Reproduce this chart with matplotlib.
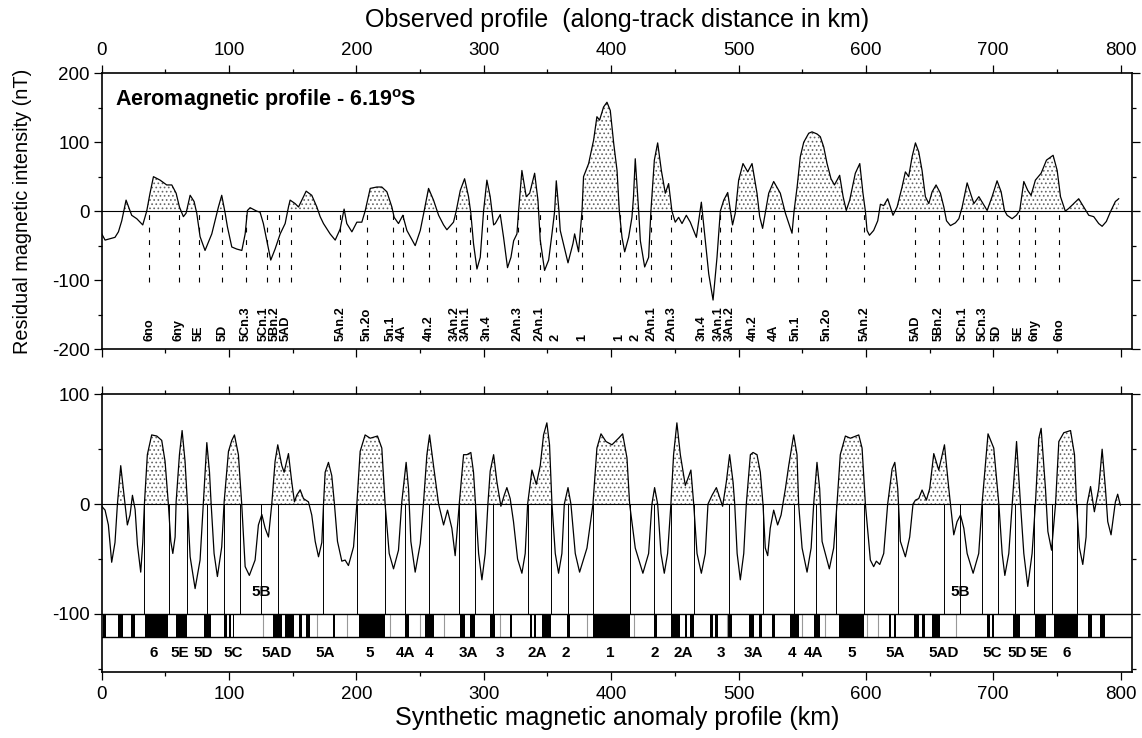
import matplotlib
matplotlib.use("Agg")
import matplotlib.pyplot as plt
import numpy as np
from matplotlib.ticker import MultipleLocator

plt.rcParams["font.family"] = ["Liberation Sans", "DejaVu Sans"]
plt.rcParams["axes.unicode_minus"] = False
plt.rcParams["mathtext.fontset"] = "custom"
plt.rcParams["mathtext.rm"] = "Liberation Sans"
plt.rcParams["mathtext.bf"] = "Liberation Sans:bold"
plt.rcParams["hatch.linewidth"] = 0.7
plt.rcParams["hatch.color"] = "#666666"
plt.rcParams["lines.scale_dashes"] = False

# ---------------- observed (aeromagnetic) profile, km / nT
obs_km = [0, 2.6, 6.5, 10.4, 13.1, 15.7, 19.1, 23.5, 27.5, 32.2, 35.3, 37.9, 40.6, 45.8, 51.0,
          55.0, 58.4, 61.0, 64.1, 66.2, 69.4, 72.5, 74.6, 77.2, 81.1, 86.4, 91.6, 94.2, 96.9,
          98.7, 102.1, 106.0, 110.0, 112.6, 114.4, 116.5, 121.7, 124.3, 126.9, 129.6, 132.7,
          136.1, 140.1, 144.0, 146.6, 147.9, 151.8, 154.5, 160.5, 164.9, 168.9, 171.5, 174.1,
          179.3, 183.3, 187.2, 190.3, 192.4, 196.4, 200.3, 204.2, 206.8, 210.8, 216.0, 219.9,
          223.9, 227.8, 229.6, 233.0, 236.4, 239.6, 246.1, 250.1, 252.7, 256.6, 260.5, 264.5,
          268.4, 271.0, 276.2, 278.3, 281.5, 284.9, 288.0, 289.8, 291.9, 294.6, 297.2, 299.8,
          302.4, 305.0, 307.7, 309.0, 312.9, 315.5, 318.6, 321.3, 323.4, 326.0, 327.3, 329.9,
          333.3, 336.0, 339.9, 342.5, 344.3, 347.7, 350.9, 353.5, 355.6, 356.9, 359.0, 360.0,
          366.1, 370.0, 371.3, 374.4, 377.1, 378.3, 382.3, 386.2, 388.8, 390.9, 394.0, 396.7,
          399.3, 402.0, 404.6, 406.4, 408.5, 410.6, 413.7, 416.3, 417.5, 418.9, 421.6, 422.9,
          426.3, 429.4, 431.2, 433.9, 436.5, 439.4, 442.5, 445.1, 447.7, 450.3, 453.0, 455.6,
          459.0, 462.1, 466.9, 470.8, 473.9, 476.6, 480.0, 483.1, 485.7, 488.4, 491.5, 495.3,
          497.4, 500.1, 503.5, 507.2, 510.6, 514.5, 516.6, 518.9, 523.7, 527.6, 532.8, 536.8,
          542.0, 543.6, 546.0, 548.5, 551.2, 555.1, 557.7, 561.6, 564.2, 566.9, 569.5, 572.6,
          575.3, 579.4, 582.1, 584.6, 587.3, 591.7, 595.2, 597.7, 599.6, 600.9, 602.8, 606.1,
          609.3, 611.4, 614.0, 617.1, 619.2, 621.3, 624.5, 628.4, 631.0, 633.6, 636.3, 638.9,
          641.5, 644.1, 646.7, 649.4, 652.0, 655.1, 658.5, 661.2, 663.3, 666.4, 670.3, 673.0,
          675.6, 679.5, 682.1, 684.8, 688.7, 692.0, 695.2, 699.1, 703.0, 706.2, 708.8, 710.9,
          714.8, 718.2, 720.8, 724.0, 727.1, 729.7, 733.1, 737.6, 741.8, 747.0, 750.2, 752.8,
          756.6, 759.3, 763.2, 767.1, 771.1, 775.0, 778.9, 782.8, 785.5, 788.8, 792.0, 795.9,
          798.5]
obs_nt = [-33, -42, -40, -38, -30, -14, 16, -6, -11, -20, 0, 26, 50, 45, 38,
          38, 26, 6, -8, -3, 23, 14, -3, -37, -57, -33, 6, 23, -3,
          -23, -52, -55, -57, -33, 1, 5, 0, -1.5, -18, -43, -71,
          -55, -33, -18, 6, 16, 11, 6, 29, 23, 6, -8, -18,
          -33, -42, -26, 3, -18, -30, -16, -16, 0, 33, 35, 35,
          28, 6, -9, -18, -6, -28, -50, -28, -4, 33, 16, -6,
          -20, -27, -16, 0, 30, 47, 21, -3, -47, -84, -67, 0,
          45, 21, -20, -18, -5, -38, -82, -67, -43, -33, 0, 59,
          21, 26, 55, 16, -42, -86, -71, -33, 0, 44, 0, -28,
          -75, -47, -33, -59, 0, 50, 69, 103, 137, 132, 151, 158,
          146, 98, 59, 0, -38, -59, -38, -9, 20, 76, 0, -43,
          -81, -67, 0, 74, 99, 59, 26, 40, 0, -16, -9, -18,
          -6, -16, -38, 13, -43, -91, -129, -67, 0, 16, 27, -20,
          -3, 45, 69, 57, 69, 26, -8, -25, 26, 43, 26, -3,
          -32, 0, 35, 79, 100, 113, 115, 112, 108, 93, 69, 47,
          38, 52, 21, 1, 16, 55, 69, 26, 0, -28, -35, -28,
          -14, 10, 8, 18, 6, -6, 6, 35, 57, 50, 79, 99,
          86, 59, 21, 11, 28, 38, 26, 6, -14, -21, -17, -11,
          6, 41, 26, 11, 21, 11, 1, 21, 44, 28, 1, -6,
          -11, -6, 1, 43, 30, 23, 45, 55, 74, 81, 59, 21,
          0, 4, 11, 18, 6, -6, -8, -18, -22, -15, -1, 14,
          18]

# picked isochrons on the observed profile
chron_km = [37.2, 60.7, 76.4, 94.8, 113.1, 130.1, 139.3, 148.7, 187.2, 208.1, 228.3, 236.4,
            256.6, 277.8, 288.8, 302.4, 326.5, 343.8, 356.9, 377.1, 406.6, 419.5, 431.5, 447.2,
            470.8, 485.2, 494.4, 511.1, 527.6, 546.4, 569.0, 598.8, 638.9, 657.5, 676.0, 691.8,
            703.3, 720.3, 732.9, 752.0]
chron_labels = ["6no", "6ny", "5E", "5D", "5Cn.3", "5Cn.1", "5Bn.2", "5AD", "5An.2", "5n.2o",
                "5n.1", "4A", "4n.2", "3An.2", "3An.1", "3n.4", "2An.3", "2An.1", "2", "1",
                "1", "2", "2An.1", "2An.3", "3n.4", "3An.1", "3An.2", "4n.2", "4A", "5n.1",
                "5n.2o", "5An.2", "5AD", "5Bn.2", "5Cn.1", "5Cn.3", "5D", "5E", "6ny", "6no"]
chron_label_km = [37.5, 60.5, 76.0, 95.0, 113.1, 127.0, 135.6, 144.2, 187.2, 208.1,
                  226.5, 235.5, 256.6, 276.8, 285.6, 302.4, 326.5, 343.8, 356.0, 377.1,
                  406.6, 418.8, 432.0, 447.2, 470.8, 484.4, 493.2, 511.1, 527.6, 545.0,
                  569.0, 598.8, 638.9, 657.5, 676.0, 692.0, 702.5, 720.3, 732.3, 752.0]

# ---------------- synthetic profile, km / nT
syn_km = [0, 2.6, 5.2, 7.8, 10.4, 12.3, 14.9, 17.5, 20.1, 22.2, 24.1, 26.2, 28.0, 30.6, 32.2,
          33.5, 35.8, 39.2, 43.2, 47.1, 49.7, 52.3, 54.2, 55.8, 57.6, 58.4, 61.0, 63.1, 65.4,
          67.3, 69.4, 73.3, 77.2, 79.8, 82.5, 84.6, 85.9, 88.2, 90.8, 94.2, 96.1, 99.5, 102.1,
          104.2, 107.3, 109.9, 112.6, 115.9, 120.4, 123.0, 125.7, 128.3, 130.9, 133.5, 136.1,
          138.2, 141.4, 143.2, 146.6, 149.2, 151.3, 153.1, 155.8, 158.4, 162.3, 164.9, 167.6,
          170.2, 172.8, 174.1, 175.4, 178.0, 180.6, 182.7, 185.1, 188.5, 191.1, 193.7, 197.7,
          200.3, 202.9, 206.8, 210.8, 216.5, 219.9, 222.5, 225.7, 229.1, 233.0, 235.6, 239.0,
          240.9, 242.7, 246.1, 250.1, 252.7, 255.3, 257.4, 260.5, 264.5, 268.4, 271.5, 274.9,
          277.5, 280.7, 284.1, 286.7, 289.8, 291.9, 293.5, 295.9, 298.5, 301.1, 303.2, 305.0,
          307.7, 310.3, 313.4, 316.0, 318.1, 320.7, 323.3, 326.5, 329.9, 332.5, 334.4, 337.8,
          341.2, 344.3, 346.9, 349.5, 351.6, 353.5, 356.1, 358.7, 361.3, 363.2, 366.1, 368.4,
          371.8, 375.2, 381.0, 385.7, 388.8, 392.0, 395.9, 400.6, 405.8, 409.0, 412.4, 414.5,
          418.9, 424.9, 429.4, 432.0, 434.1, 436.5, 439.1, 441.7, 444.3, 446.9, 449.0, 451.6,
          454.3, 458.2, 460.8, 462.6, 464.8, 467.4, 470.8, 473.9, 476.0, 479.2, 482.6, 487.5,
          490.4, 493.0, 495.7, 497.0, 498.9, 501.4, 504.1, 506.1, 509.3, 511.4, 514.5, 517.1,
          519.2, 521.0, 522.9, 524.9, 527.6, 530.7, 533.4, 536.8, 539.4, 543.3, 545.9, 547.2,
          549.9, 553.8, 557.0, 559.0, 561.6, 563.7, 565.6, 571.3, 574.7, 577.3, 579.9, 583.9,
          587.8, 594.4, 597.0, 599.6, 603.5, 606.1, 608.2, 610.9, 614.0, 617.1, 620.6, 622.7,
          625.0, 627.1, 631.0, 634.4, 637.0, 638.9, 641.5, 644.1, 647.5, 650.1, 653.3, 657.2,
          661.7, 665.1, 666.4, 669.0, 671.6, 674.3, 676.9, 679.5, 684.2, 688.6, 691.2, 695.9,
          700.4, 704.4, 707.0, 709.1, 712.2, 714.9, 718.3, 721.4, 724.0, 727.1, 730.5, 733.1,
          735.8, 737.6, 741.0, 742.9, 745.8, 748.9, 751.5, 755.4, 760.7, 763.8, 765.4, 767.7,
          770.3, 772.9, 773.7, 776.4, 779.4, 782.8, 785.5, 788.1, 789.9, 792.5, 795.9, 797.7,
          799.8]
syn_nt = [-2, -5.5, -19, -53, -35, 0, 35, 8, -19, -10, 8, -5, -37, -62, -35,
          0, 45, 63, 62, 58, 39, 0, -34, -45, -30, 2, 45, 67, 39,
          0, -48, -77, -51, 2, 56, 29, 0, -45, -66, -39, 2, 48, 58,
          63, 45, 0, -57, -65, -51, -19, -9.5, -22, -30, 0, 39,
          54, 35, 29, 46, 20, 2, 8, 13, 5, 2, -10, -34,
          -48, -35, -1, 29, 38, 26, 0, -34, -52, -51, -56, -39,
          0, 48, 63, 60, 62, 51, 0, -45, -59, -42, 2, 38,
          14, -34, -62, -36, 2, 45, 63, 35, 0, -19, -5.5, -22,
          -47, 0, 45, 45, 47, 29, 0, -45, -69, -45, 0, 30,
          45, 20, -2, 8, 15, 5, -16, -50, -63, -45, 0, 31,
          18, 35, 63, 74, 54, 0, -45, -63, -45, 0, 15, 0,
          -45, -62, -40, 0, 51, 64, 57, 54, 60, 64, 42, 0,
          -40, -63, -45, 0, 15, 0, -45, -63, -45, 0, 45, 74,
          45, 17, 25, 31, 0, -45, -63, -45, 0, 8, 15, -2,
          20, 45, 20, 0, -45, -69, -45, 0, 45, 47, 45, 29,
          0, -40, -47, -22, -5.5, -19, -10, 14, 35, 63, 45, 0,
          -40, -62, -40, 0, 38, 14, -34, -59, -40, 0, 45, 62,
          60, 63, 51, 0, -51, -57, -52, -55, -45, 0, 32, 38,
          14, -34, -48, -30, 0, 3.6, 5, 12.8, 3.6, 14, 46, 31,
          54, 14, 0, -28, -16, -10, -22, -45, -63, -45, 0, 64,
          51, 0, -45, -65, -45, 0, 57, 0, -45, -75, -45, 0,
          60, 69, 14, -25, -42, 0, 57, 65, 67, 45, 0, -40,
          -55, -30, 0, 16, -7, 14, 50, 14, -16, -28, 2, 9,
          -1]

# chron boundaries drawn on synthetic profile
boundary_km = [33.5, 53.1, 67.3, 82.5, 96.1, 108.6, 125.1, 138.2, 174.1, 200.8, 222.6, 238.3,
               256.6, 280.2, 292.7, 307.1, 334.6, 352.9, 366.1, 385.7, 414.5, 433.3, 446.9,
               464.8, 492.5, 518.9, 543.3, 560.8, 576.8, 598.3, 625.0, 661.1, 674.2, 691.2,
               703.8, 716.9, 732.3, 746.2, 765.9]

# normal polarity blocks of the model (start km, end km)
normal_start = [1.3, 13.1, 22.8, 34.0, 58.4, 80.4, 96.1, 100.3, 102.9, 134.8, 144.0, 154.5,
                160.5, 181.4, 201.6, 238.3, 254.0, 281.5, 288.8, 305.0, 320.7, 335.9, 339.1,
                345.6, 365.2, 385.7, 433.3, 447.2, 458.2, 461.6, 477.9, 481.8, 491.5, 507.9,
                515.8, 526.3, 540.7, 559.5, 578.6, 617.9, 621.9, 637.6, 644.1, 651.9, 695.2,
                699.1, 715.6, 733.1, 747.7, 774.5, 783.7]
normal_end = [3.1, 17.0, 26.2, 52.3, 66.7, 85.6, 98.2, 101.6, 104.0, 141.4, 151.1, 157.1,
              163.6, 183.3, 222.5, 240.9, 260.5, 285.4, 292.7, 309.0, 322.0, 337.7, 341.2,
              353.0, 367.9, 414.5, 435.9, 454.3, 459.5, 464.8, 480.0, 483.9, 495.1, 511.9,
              518.4, 528.9, 547.2, 564.3, 598.8, 619.8, 624.0, 641.5, 646.8, 658.5, 697.3,
              700.4, 720.8, 741.8, 766.6, 777.6, 788.1]
# very short events shown as grey ticks inside the bar
short_km = [126.4, 168.9, 192.4, 226.5, 250.0, 268.4, 312.9, 380.9, 417.6, 490.9, 549.8,
            568.2, 600.9, 609.3, 671.1]

block_labels = ["6", "5E", "5D", "5C", "5AD", "5A", "5", "4A", "4", "3A", "3", "2A", "2", "1",
                "2", "2A", "3", "3A", "4", "4A", "5", "5A", "5AD", "5C", "5D", "5E", "6"]
block_label_km = [40.6, 61.5, 79.3, 103.4, 137.4, 175.4, 210.2, 238.3, 256.6, 288.0, 312.9,
                  341.7, 364.2, 399.3, 434.6, 456.9, 486.5, 511.9, 542.0, 559.0, 588.6, 623.2,
                  661.1, 699.1, 718.7, 735.8, 758.0]
c5b_km = [124.9, 674.0]

# ---------------- figure
fig = plt.figure(figsize=(11.42, 7.38), dpi=100)
ax1 = fig.add_axes([0.0891, 0.5271, 0.9022, 0.3736])
ax2 = fig.add_axes([0.0891, 0.0894, 0.9022, 0.3763])

for ax in (ax1, ax2):
    ax.set_xlim(0, 809)
    ax.xaxis.set_major_locator(MultipleLocator(100))
    ax.xaxis.set_minor_locator(MultipleLocator(50))
    ax.yaxis.set_major_locator(MultipleLocator(100))
    ax.yaxis.set_minor_locator(MultipleLocator(50))
    ax.tick_params(which="both", direction="out", top=True, right=True, width=0.9,
                   labelsize=13.5)
    ax.tick_params(which="major", length=6)
    ax.tick_params(which="minor", length=3)
    ax.tick_params(axis="y", which="major", pad=2.5)
    for s in ax.spines.values():
        s.set_linewidth(1.2)
    ax.axhline(0, color="black", lw=0.8, zorder=2)

ax1.tick_params(labeltop=True, labelbottom=False)
ax1.tick_params(axis="x", which="major", pad=4.5)
ax2.tick_params(labeltop=False, labelbottom=True)
ax2.tick_params(axis="x", which="major", pad=4)

# top panel
x = np.array(obs_km)
y = np.array(obs_nt)
ax1.set_ylim(-200, 200)
ax1.fill_between(x, y, 0, where=y > 0, interpolate=True, facecolor="white",
                 hatch="....", linewidth=0, zorder=1)
ax1.plot(x, y, color="black", lw=0.9, zorder=3)
ax1.vlines(chron_km, -103, 0, colors="black", lw=0.8, linestyles=(0, (3.5, 5.5)))
for xk, lab in zip(chron_label_km, chron_labels):
    ax1.text(xk, -188, lab, rotation=90, ha="center", va="bottom", fontsize=9.2,
             fontweight="bold")
ax1.text(10.5, 161, r"Aeromagnetic profile - 6.19$^{\mathbf{o}}$S", fontsize=15.5,
         fontweight="bold", ha="left", va="center")
ax1.set_ylabel("Residual magnetic intensity (nT)", fontsize=14.3)
ax1.yaxis.set_label_coords(-0.068, 0.5)
ax1.xaxis.set_label_position("top")
ax1.set_xlabel("Observed profile  (along-track distance in km)", fontsize=18, labelpad=10.5)

# bottom panel
xs = np.array(syn_km)
ys = np.array(syn_nt)
ax2.set_ylim(-153, 100)
ax2.fill_between(xs, ys, 0, where=ys > 0, interpolate=True, facecolor="white",
                 hatch="....", linewidth=0, zorder=1)
ax2.plot(xs, ys, color="black", lw=0.9, zorder=3)
ax2.vlines(boundary_km, -100, 0, colors="black", lw=0.7)
ax2.broken_barh([(a, b - a) for a, b in zip(normal_start, normal_end)], (-121, 21),
                facecolors="black")
ax2.vlines(short_km, -121, -100, colors="#999999", lw=0.8)
ax2.axhline(-100, color="black", lw=1.0)
ax2.axhline(-121, color="black", lw=1.0)
for xk, lab in zip(block_label_km, block_labels):
    ax2.text(xk, -135.5, lab, ha="center", va="center", fontsize=11, fontweight="bold")
for xk in c5b_km:
    ax2.text(xk, -80, "5B", ha="center", va="center", fontsize=11, fontweight="bold")
ax2.set_xlabel("Synthetic magnetic anomaly profile (km)", fontsize=18, labelpad=2)

fig.savefig("out.png", dpi=100)
